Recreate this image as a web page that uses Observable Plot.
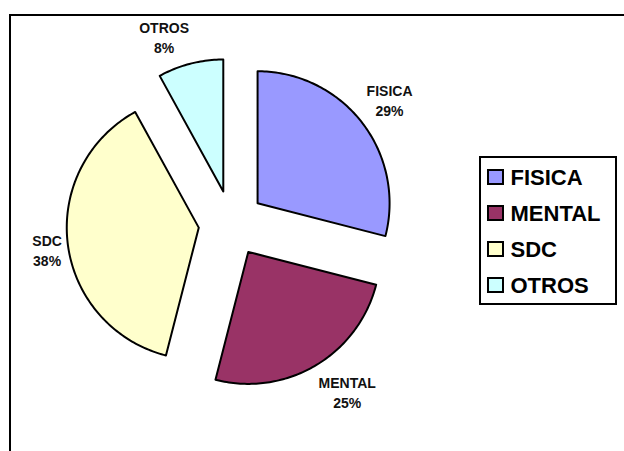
<!DOCTYPE html>
<html>
<head>
<meta charset="utf-8">
<script src="https://cdn.jsdelivr.net/npm/d3@7"></script>
<script src="https://cdn.jsdelivr.net/npm/@observablehq/plot@0.6"></script>
<style>
  html, body { margin: 0; padding: 0; background: #fff; }
  svg { display: block; font-family: "Liberation Sans", Arial, sans-serif; }
</style>
</head>
<body>
<div id="chart"></div>
<script>
// ---- data ----
const categories = ["FISICA", "MENTAL", "SDC", "OTROS"];
const percents = [29, 25, 38, 8];
const colors = ["#9999FF", "#993366", "#FFFFCC", "#CCFFFF"];

// ---- layout constants ----
const W = 624, H = 451;
const cx = 231, cy = 223, r = 132, explode = 33;
const labelFont = 14, labelLine = 20;
const FONT = '"Liberation Sans", Arial, sans-serif';

const ctx = document.createElement("canvas").getContext("2d");
ctx.font = `bold ${labelFont}px ${FONT}`;
const textW = s => ctx.measureText(s).width;
const clamp = (v, a, b) => Math.max(a, Math.min(b, v));

const pie = d3.pie().sort(null).value(d => d.value)(
  categories.map((c, i) => ({cat: c, value: percents[i]}))
);

// slice outlines (computed from data angles)
const slicePts = [];
const labels = [];
pie.forEach(p => {
  const cat = p.data.cat;
  const mid = (p.startAngle + p.endAngle) / 2;
  const dx = Math.sin(mid), dy = -Math.cos(mid);
  const ax = cx + explode * dx, ay = cy + explode * dy;
  slicePts.push({cat, x: ax, y: ay});
  const n = Math.max(8, Math.ceil((p.endAngle - p.startAngle) / (Math.PI / 180)));
  for (let k = 0; k <= n; k++) {
    const a = p.startAngle + (p.endAngle - p.startAngle) * k / n;
    slicePts.push({cat, x: ax + r * Math.sin(a), y: ay - r * Math.cos(a)});
  }
  slicePts.push({cat, x: ax, y: ay});
  // label box placed just outside the slice's outer edge
  const pct = Math.round(p.data.value) + "%";
  const hw = Math.max(textW(cat), textW(pct)) / 2;
  const hh = 17;
  const px = ax + r * dx, py = ay + r * dy;
  labels.push({
    text: cat + "\n" + pct,
    x: px + clamp(dx / 0.2, -1, 1) * hw + dx * 6,
    y: py + clamp(dy / 0.5, -1, 1) * hh + dy * 10
  });
});

// legend layout
const leg = {x1: 480, x2: 616, y1: 157, y2: 304, row0: 177, step: 36};
const legendRows = categories.map((c, i) => ({cat: c, y: leg.row0 + i * leg.step}));

const chart = Plot.plot({
  width: W, height: H,
  margin: 0,
  x: {domain: [0, W], range: [0, W], axis: null},
  y: {domain: [0, H], range: [0, H], axis: null},
  color: {domain: categories, range: colors},
  style: {fontFamily: FONT, background: "#fff"},
  marks: [
    // outer chart frame
    Plot.rect([{}], {x1: 10, x2: W + 10, y1: 15, y2: H + 10, fill: "none", stroke: "black", strokeWidth: 2}),
    // slices
    Plot.line(slicePts, {x: "x", y: "y", z: "cat", fill: "cat", stroke: "black", strokeWidth: 2, strokeLinejoin: "round", curve: "linear"}),
    // data labels
    Plot.text(labels, {x: "x", y: "y", text: "text", fontSize: labelFont, fontWeight: "bold", lineHeight: labelLine / labelFont, fill: "#111", textAnchor: "middle"}),
    // legend box
    Plot.rect([leg], {x1: "x1", x2: "x2", y1: "y1", y2: "y2", fill: "white", stroke: "black", strokeWidth: 2}),
    Plot.rect(legendRows, {x1: 488, x2: 503, y1: d => d.y - 7, y2: d => d.y + 7, fill: "cat", stroke: "black", strokeWidth: 2}),
    Plot.text(legendRows, {x: 510, y: "y", text: "cat", textAnchor: "start", fontSize: 22, fontWeight: "bold", fill: "#000"})
  ]
});
document.getElementById("chart").appendChild(chart);
</script>
</body>
</html>
